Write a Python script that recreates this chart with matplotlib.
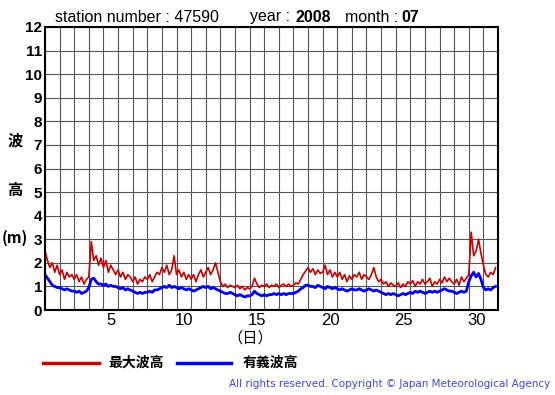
import matplotlib
matplotlib.use('Agg')
import matplotlib.pyplot as plt
import numpy as np

# wave height data, 6 values per day (every 4 hours), July 2008, station 47590
max_wave = [
    2.5, 2.1, 1.8, 2.0, 1.6, 1.9,
    1.5, 1.7, 1.3, 1.6, 1.4, 1.5,
    1.3, 1.5, 1.2, 1.4, 1.1, 1.3,
    1.4, 2.9, 2.1, 2.3, 1.9, 2.2,
    1.8, 2.1, 1.6, 1.9, 1.7, 1.5,
    1.7, 1.4, 1.6, 1.3, 1.5, 1.4,
    1.2, 1.4, 1.1, 1.3, 1.2, 1.4,
    1.3, 1.5, 1.2, 1.4, 1.6, 1.5,
    1.8, 1.6, 1.9, 1.5, 1.7, 2.3,
    1.5, 1.7, 1.4, 1.6, 1.3, 1.5,
    1.3, 1.5, 1.2, 1.5, 1.7, 1.4,
    1.6, 1.8, 1.5, 1.7, 2.0, 1.6,
    1.2, 1.0, 1.1, 0.95, 1.05, 1.0,
    0.95, 1.05, 0.9, 1.0, 0.85, 0.95,
    0.9, 1.0, 1.35, 1.1, 0.95, 1.05,
    1.0, 1.1, 0.95, 1.05, 1.0, 1.1,
    0.95, 1.05, 1.1, 1.0, 1.1, 1.0,
    1.05, 1.15, 1.1, 1.3, 1.5, 1.65,
    1.8, 1.6, 1.75, 1.5, 1.7, 1.55,
    1.6, 1.9, 1.5, 1.7, 1.4, 1.6,
    1.4, 1.6, 1.3, 1.5, 1.2, 1.45,
    1.3, 1.5, 1.4, 1.6, 1.3, 1.5,
    1.4, 1.3, 1.5, 1.8, 1.4, 1.2,
    1.3, 1.1, 1.2, 1.0, 1.15, 1.05,
    1.0, 1.15, 0.95, 1.1, 1.0, 1.2,
    1.1, 1.25, 1.0, 1.2, 1.1, 1.3,
    1.1, 1.2, 1.35, 1.0, 1.2, 1.1,
    1.3, 1.15, 1.4, 1.2, 1.35, 1.2,
    1.1, 1.3, 1.05, 1.4, 1.2, 1.35,
    1.5, 3.3, 2.3, 2.5, 3.0, 2.4,
    1.9, 1.5, 1.4, 1.6, 1.5, 1.8,
]

sig_wave = [
    1.5, 1.35, 1.2, 1.05, 1.0, 0.95,
    0.95, 0.9, 0.85, 0.9, 0.85, 0.8,
    0.8, 0.75, 0.8, 0.7, 0.75, 0.8,
    0.95, 1.3, 1.35, 1.2, 1.1, 1.1,
    1.05, 1.1, 1.0, 1.05, 1.0, 1.0,
    0.95, 0.9, 0.95, 0.85, 0.9, 0.85,
    0.8, 0.75, 0.7, 0.75, 0.7, 0.75,
    0.75, 0.8, 0.75, 0.85, 0.85, 0.9,
    0.95, 1.0, 0.95, 1.05, 0.95, 1.0,
    0.95, 0.9, 0.95, 0.9, 0.85, 0.9,
    0.85, 0.8, 0.85, 0.9, 0.95, 1.0,
    0.95, 1.0, 0.9, 0.95, 0.9, 0.85,
    0.8, 0.75, 0.7, 0.7, 0.75, 0.7,
    0.65, 0.6, 0.65, 0.6, 0.55, 0.6,
    0.6, 0.65, 0.8, 0.7, 0.65, 0.6,
    0.65, 0.6, 0.65, 0.65, 0.7, 0.65,
    0.7, 0.65, 0.7, 0.65, 0.7, 0.7,
    0.7, 0.75, 0.8, 0.9, 0.95, 1.05,
    1.05, 1.0, 1.0, 0.95, 1.05, 1.0,
    0.95, 0.9, 1.0, 0.95, 0.9, 0.95,
    0.9, 0.85, 0.9, 0.85, 0.8, 0.85,
    0.9, 0.85, 0.85, 0.9, 0.85, 0.8,
    0.85, 0.9, 0.85, 0.8, 0.85, 0.8,
    0.75, 0.7, 0.65, 0.7, 0.65, 0.7,
    0.65, 0.6, 0.65, 0.7, 0.65, 0.7,
    0.75, 0.7, 0.8, 0.75, 0.8, 0.75,
    0.7, 0.75, 0.8, 0.75, 0.8, 0.75,
    0.8, 0.85, 0.9, 0.85, 0.8, 0.8,
    0.75, 0.7, 0.75, 0.8, 0.75, 0.8,
    1.2, 1.45, 1.6, 1.4, 1.55, 1.3,
    0.95, 0.85, 0.9, 0.85, 0.95, 1.0,
]

day_ticks = [5, 10, 15, 20, 25, 30]
n_days = 31
per_day = 6

plt.rcParams['font.family'] = ['Liberation Sans', 'Noto Sans CJK JP', 'DejaVu Sans']
cjk = ['Noto Sans CJK JP', 'DejaVu Sans']

fig = plt.figure(figsize=(5.55, 3.95), dpi=100)
ax = fig.add_axes([45 / 555, 85 / 395, 453 / 555, 283 / 395])

t = np.arange(len(max_wave)) / per_day
ax.plot(t, max_wave, color='#cc0000', lw=1.2)
ax.plot(t, sig_wave, color='#0000ff', lw=2.0)

ax.set_xlim(0, n_days)
ax.set_ylim(0, 12)
ax.set_xticks(np.arange(0, n_days + 1), minor=True)
ax.set_xticks([d - 0.5 for d in day_ticks])
ax.set_xticklabels([str(d) for d in day_ticks], fontsize=12)
ax.set_yticks(range(0, 13))
ax.set_yticklabels([str(v) for v in range(0, 13)], fontsize=11, fontweight='bold')
ax.tick_params(axis='both', which='both', length=0, pad=2)
ax.grid(which='minor', axis='x', color='#555555', lw=0.8)
ax.grid(which='major', axis='y', color='#555555', lw=0.8)
for s in ax.spines.values():
    s.set_linewidth(1.5)

# header text
hy = 1 - 17 / 395
fig.text(55 / 555, hy, 'station number : 47590', fontsize=11.5, va='center')
fig.text(250 / 555, hy, 'year :', fontsize=11.5, va='center')
fig.text(295 / 555, hy, '2008', fontsize=11.5, fontweight='bold', va='center')
fig.text(345 / 555, hy, 'month :', fontsize=11.5, va='center')
fig.text(401 / 555, hy, '07', fontsize=11.5, fontweight='bold', va='center')

# y label
fig.text(15 / 555, 1 - 140 / 395, '波', fontsize=11, family=cjk, fontweight='bold', ha='center', va='center')
fig.text(15 / 555, 1 - 190 / 395, '高', fontsize=11, family=cjk, fontweight='bold', ha='center', va='center')
fig.text(15 / 555, 1 - 238 / 395, '(m)', fontsize=11, family=cjk, fontweight='bold', ha='center', va='center')
fig.text(250 / 555, 1 - 338 / 395, '（日）', fontsize=11, family=cjk, ha='center', va='center')

# legend
fig.add_artist(plt.Line2D([43 / 555, 99 / 555], [1 - 363 / 395, 1 - 363 / 395], color='#cc0000', lw=2.5))
fig.text(108 / 555, 1 - 363 / 395, '最大波高', fontsize=10, family=cjk, fontweight='bold', va='center')
fig.add_artist(plt.Line2D([177 / 555, 231 / 555], [1 - 363 / 395, 1 - 363 / 395], color='#0000ff', lw=2.5))
fig.text(243 / 555, 1 - 363 / 395, '有義波高', fontsize=10, family=cjk, fontweight='bold', va='center')

fig.text(550 / 555, 1 - 384 / 395, 'All rights reserved. Copyright \u00a9 Japan Meteorological Agency',
         fontsize=7.5, family='DejaVu Sans', color='#4444dd', ha='right', va='center')

fig.savefig('out.png', dpi=100)
